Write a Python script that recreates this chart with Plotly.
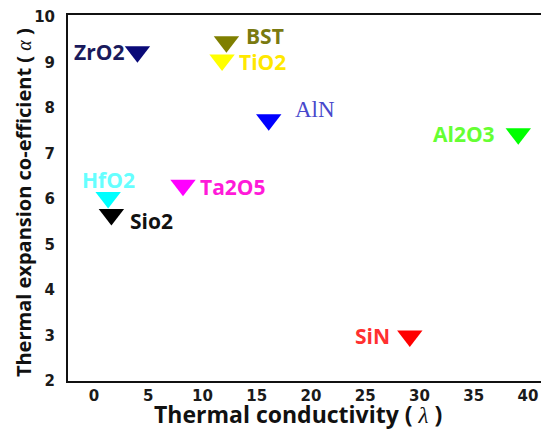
import plotly.graph_objects as go

# ---- data ----
materials = ["ZrO2", "BST", "TiO2", "AlN", "Al2O3", "HfO2", "Sio2", "Ta2O5", "SiN"]
conductivity = [4.0, 12.2, 11.8, 16.1, 39.1, 1.3, 1.6, 8.2, 29.1]
expansion = [9.23, 9.45, 9.05, 7.74, 7.43, 6.03, 5.66, 6.30, 2.99]
marker_colors = ["#0a0a78", "#7f7f00", "#ffff00", "#0000ff", "#00ff00",
                 "#00ffff", "#000000", "#ff00ff", "#ff0000"]
label_colors = ["#1a1a5c", "#7a7a10", "#ffe800", "#4848cc", "#66ff33",
                "#66ffff", "#111111", "#ff1ad9", "#ff3030"]
x_ticks = [0, 5, 10, 15, 20, 25, 30, 35, 40]
y_ticks = [2, 3, 4, 5, 6, 7, 8, 9, 10]

# label placement (styling only)
label_anchor = ["right", "left", "left", "left", "right", "center", "left", "left", "right"]
label_dx = [-11, 18, 15, 24, -21, 0, 17, 15, -18]
label_dy = [0, 6, -2, 10, 0, 18, -7, -2, 0]
label_font = ["Open Sans"] * 9
label_font[3] = "Liberation Serif"

fig = go.Figure()
fig.add_trace(go.Scatter(
    x=conductivity, y=expansion, mode="markers",
    marker=dict(symbol="triangle-down", size=22, color=marker_colors,
                line=dict(width=0)),
    showlegend=False, hoverinfo="skip", cliponaxis=False))

annotations = []
for i, name in enumerate(materials):
    is_serif = label_font[i] != "Open Sans"
    annotations.append(dict(
        x=conductivity[i], y=expansion[i], xref="x", yref="y",
        text=name if is_serif else f"<b>{name}</b>",
        showarrow=False, xanchor=label_anchor[i], yanchor="middle",
        xshift=label_dx[i], yshift=label_dy[i],
        font=dict(family=label_font[i], size=23 if is_serif else 21,
                  color=label_colors[i])))

annotations.append(dict(
    x=0.479, y=0, xref="paper", yref="paper", xanchor="center", yanchor="middle",
    yshift=-33, showarrow=False,
    text='<b>Thermal conductivity ( </b><span style="font-family:Liberation Serif"><i>λ</i></span><b> )</b>',
    font=dict(family="Open Sans", size=23, color="#111111")))
annotations.append(dict(
    x=0, y=0.486, xref="paper", yref="paper", xanchor="center", yanchor="middle",
    xshift=-45, textangle=-90, showarrow=False,
    text='<b>Thermal expansion co-efficient ( </b><span style="font-family:Liberation Serif"><i>α</i></span><b> )</b>',
    font=dict(family="Open Sans", size=20, color="#111111")))

# the page adds an 8px body margin, so the figure is sized to fit the window
fig.update_layout(
    width=541, height=422,
    margin=dict(l=60, r=0, t=7, b=49, autoexpand=False),
    plot_bgcolor="white", paper_bgcolor="white",
    annotations=annotations,
)
fig.update_xaxes(range=[-2.4, 41.93], tickvals=x_ticks, ticktext=[str(v) for v in x_ticks],
                 showgrid=False, zeroline=False, showline=True, linecolor="#111111",
                 linewidth=2, mirror=True, ticks="", ticklen=0, ticklabelstandoff=0,
                 automargin=False,
                 tickfont=dict(family="DejaVu Sans", size=15, color="#1a1a1a", weight="bold"))
fig.update_yaxes(range=[2, 10.04], tickvals=y_ticks, ticktext=[str(v) for v in y_ticks],
                 showgrid=False, zeroline=False, showline=True, linecolor="#111111",
                 linewidth=2, ticks="", ticklen=0, ticklabelstandoff=8, automargin=False,
                 tickfont=dict(family="DejaVu Sans", size=15, color="#1a1a1a", weight="bold"))

fig.write_html("out.html")
